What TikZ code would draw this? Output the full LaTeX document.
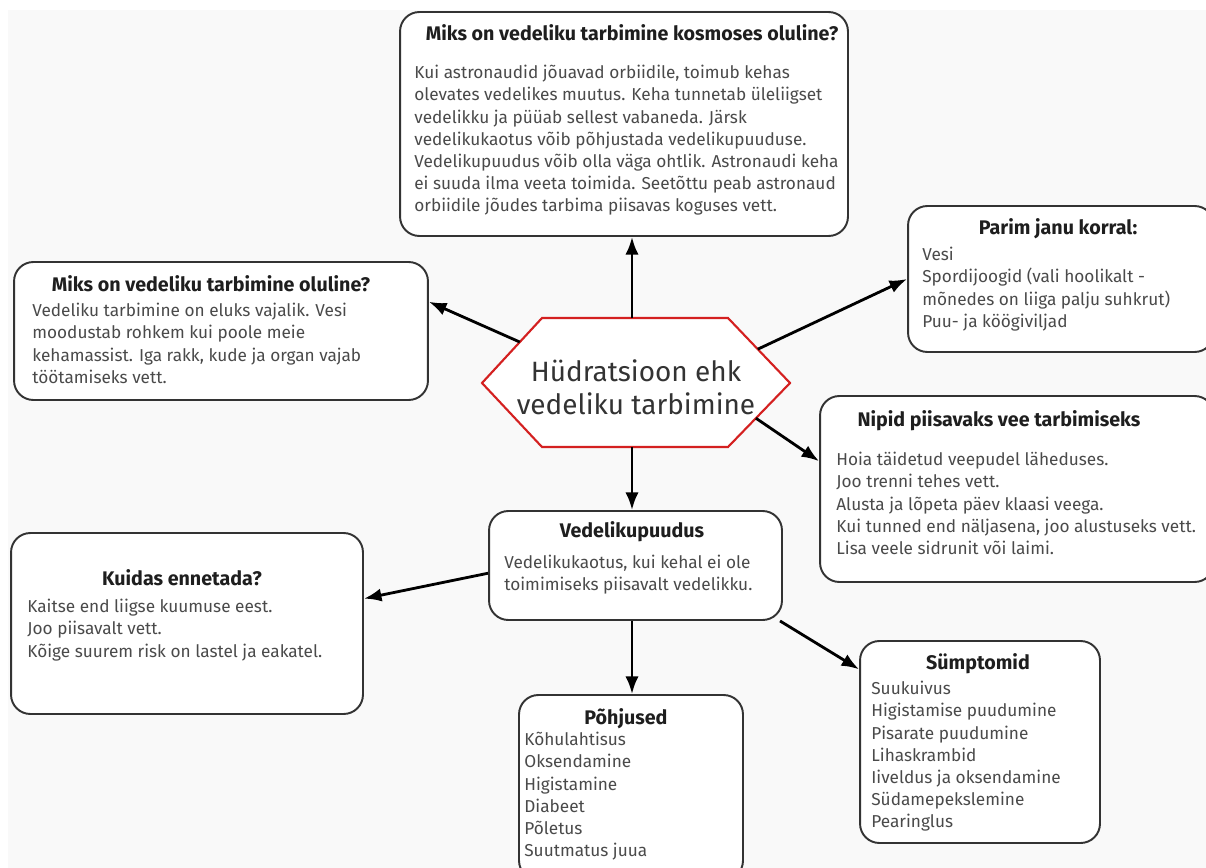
\documentclass[tikz,border=0pt]{standalone}
\usepackage{fontspec}
\setmainfont{Fira Sans}
\usetikzlibrary{arrows.meta,calc,positioning}

\definecolor{canvas}{HTML}{F9F9F9}
\definecolor{boxline}{HTML}{333333}
\definecolor{bodytext}{HTML}{4A4A4A}
\definecolor{headtext}{HTML}{1E1E1E}
\definecolor{hubred}{HTML}{D42020}

\tikzset{
  card/.style={draw=boxline, line width=1.1pt, rounded corners=11pt, fill=white, inner sep=0pt},
  cardhead/.style={font=\bfseries\fontsize{11.2}{13}\selectfont, text=headtext, inner sep=0pt},
  cardbody/.style={font=\fontsize{9.8}{12.6}\selectfont, text=bodytext, align=left, anchor=north west, inner sep=0pt},
  link/.style={-{Latex[length=10pt,width=7.5pt]}, line width=1.6pt},
}

\begin{document}
\begin{tikzpicture}[x=0.02cm,y=-0.02cm]
    % page and grey canvas
    \useasboundingbox (0,0) rectangle (1206,868);
    \fill[white] (0,0) rectangle (1206,868);
    \fill[canvas] (8,10) rectangle (1206,868);

    % hexagon in the middle
    \coordinate (hubL) at (482,383);
    \coordinate (hubTL) at (542,318);
    \coordinate (hubTR) at (728,318);
    \coordinate (hubR) at (790,383);
    \coordinate (hubBR) at (728,447);
    \coordinate (hubBL) at (542,447);
    \coordinate (hubT) at (632,318);
    \coordinate (hubB) at (632,447);
    \draw[hubred, line width=1.2pt, fill=white, line join=miter]
        (hubL) -- (hubTL) -- (hubTR) -- (hubR) -- (hubBR) -- (hubBL) -- cycle;
    \node[font=\fontsize{15.9}{18.7}\selectfont, text=boxline, align=center, inner sep=0pt]
        (hub) at (636,387) {Hüdratsioon ehk\\vedeliku tarbimine};

    % boxes
    \node[card, minimum width=8.96cm, minimum height=4.48cm] (space) at (624,124) {};
    \node[card, minimum width=8.28cm, minimum height=2.76cm] (why) at (221,331) {};
    \node[card, minimum width=6.12cm, minimum height=2.92cm] (thirst) at (1061,279) {};
    \node[card, minimum width=7.88cm, minimum height=3.72cm] (tips) at (1017,489) {};
    \node[card, minimum width=5.86cm, minimum height=2.18cm] (deficit) at (635.5,565.5) {};
    \node[card, minimum width=7.04cm, minimum height=3.62cm] (prevent) at (187,623.5) {};
    \node[card, minimum width=4.48cm, minimum height=3.70cm] (causes) at (631,787.5) {};
    \node[card, minimum width=4.80cm, minimum height=4.04cm] (symptoms) at (980,742) {};

    % headings
    \node[cardhead] (spacehead) at (632,33) {Miks on vedeliku tarbimine kosmoses oluline?};
    \node[cardhead] (whyhead) at (211,284) {Miks on vedeliku tarbimine oluline?};
    \node[cardhead] (thirsthead) at (1058,229) {Parim janu korral:};
    \node[cardhead] (tipshead) at (999,421) {Nipid piisavaks vee tarbimiseks};
    \node[cardhead] (deficithead) at (632,532) {Vedelikupuudus};
    \node[cardhead] (preventhead) at (182,578) {Kuidas ennetada?};
    \node[cardhead] (causeshead) at (626,719) {Põhjused};
    \node[cardhead] (symptomshead) at (978,664) {Sümptomid};

    % texts
    \node[cardbody] (spacetext) at (414,65) {Kui astronaudid jõuavad orbiidile, toimub kehas\\
        olevates vedelikes muutus. Keha tunnetab üleliigset\\
        vedelikku ja püüab sellest vabaneda. Järsk\\
        vedelikukaotus võib põhjustada vedelikupuuduse.\\
        Vedelikupuudus võib olla väga ohtlik. Astronaudi keha\\
        ei suuda ilma veeta toimida. Seetõttu peab astronaud\\
        orbiidile jõudes tarbima piisavas koguses vett.};
    \node[cardbody] (whytext) at (32,303) {Vedeliku tarbimine on eluks vajalik. Vesi\\
        moodustab rohkem kui poole meie\\
        kehamassist. Iga rakk, kude ja organ vajab\\
        töötamiseks vett.};
    \node[cardbody] (thirsttext) at (922,247) {Vesi\\
        Spordijoogid (vali hoolikalt -\\
        mõnedes on liiga palju suhkrut)\\
        Puu- ja köögiviljad};
    \node[cardbody] (tipstext) at (836,452) {Hoia täidetud veepudel läheduses.\\
        Joo trenni tehes vett.\\
        Alusta ja lõpeta päev klaasi veega.\\
        Kui tunned end näljasena, joo alustuseks vett.\\
        Lisa veele sidrunit või laimi.};
    \node[cardbody] (deficittext) at (504,555) {Vedelikukaotus, kui kehal ei ole\\
        toimimiseks piisavalt vedelikku.};
    \node[cardbody] (preventtext) at (27,599) {Kaitse end liigse kuumuse eest.\\
        Joo piisavalt vett.\\
        Kõige suurem risk on lastel ja eakatel.};
    \node[cardbody] (causestext) at (524,732) {Kõhulahtisus\\
        Oksendamine\\
        Higistamine\\
        Diabeet\\
        Põletus\\
        Suutmatus juua};
    \node[cardbody] (symptomstext) at (871,681) {Suukuivus\\
        Higistamise puudumine\\
        Pisarate puudumine\\
        Lihaskrambid\\
        Iiveldus ja oksendamine\\
        Südamepekslemine\\
        Pearinglus};

    % arrows
    \draw[link] (hubT) -- (hubT |- space.south);
    \draw[link] ($(hubL)!0.63!(hubTL)$) -- (why.8.5);
    \draw[link] ($(hubR)!0.52!(hubTR)$) -- (thirst.west);
    \draw[link] ($(hubR)!0.55!(hubBR)$) -- (tips.172.5);
    \draw[link] (hubB) -- (hubB |- deficit.north);
    \draw[link] (deficit.183.7) -- (prevent.8);
    \draw[link] (hubB |- deficit.south) -- (hubB |- causes.north);
    \draw[link] (deficit.-21.3) -- (symptoms.149.7);
\end{tikzpicture}
\end{document}
